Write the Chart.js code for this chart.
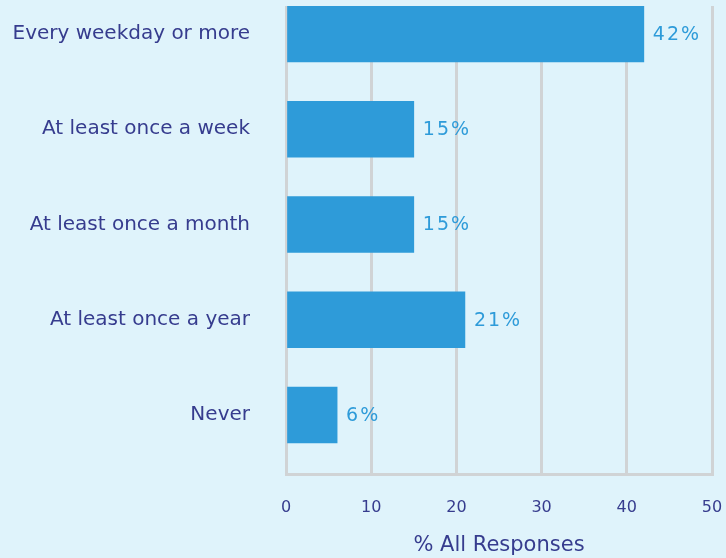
<!DOCTYPE html>
<html>
<head>
<meta charset="utf-8">
<script src="https://cdn.jsdelivr.net/npm/chart.js@4/dist/chart.umd.min.js"></script>
<style>
  html, body { margin: 0; padding: 0; background: #dff3fb; }
  #wrap { width: 726px; height: 558px; position: relative; }
</style>
</head>
<body>
<div id="wrap"><canvas id="chart"></canvas></div>
<script>
// 数据
const categories = ['Every weekday or more', 'At least once a week', 'At least once a month', 'At least once a year', 'Never'];
const responses = [42, 15, 15, 21, 6];
const xTicks = [0, 10, 20, 30, 40, 50];
const axisTitle = '% All Responses';

const barColor = '#2e9bd9';
const textColor = '#363c8e';
const gridColor = '#d0d3d5';

// 去掉刻度标签带来的额外边距
function noPadding(scale) {
    scale.paddingTop = 0;
    scale.paddingBottom = 0;
    scale.paddingLeft = 0;
    scale.paddingRight = 0;
}

// 在柱子右边写百分比
const valueLabels = {
    id: 'valueLabels',
    afterDatasetsDraw(chart) {
        const ctx = chart.ctx;
        const meta = chart.getDatasetMeta(0);
        ctx.save();
        ctx.fillStyle = barColor;
        ctx.font = '19px "DejaVu Sans"';
        ctx.letterSpacing = '2px';
        ctx.textBaseline = 'middle';
        ctx.textAlign = 'left';
        meta.data.forEach((bar, i) => {
            ctx.fillText(responses[i] + '%', bar.x + 9, bar.y + 1);
        });
        ctx.restore();
    }
};

const ctx = document.getElementById('chart').getContext('2d');
new Chart(ctx, {
    type: 'bar',
    data: {
        datasets: [{
            data: responses.map((v, i) => ({ x: v, y: i })),
            backgroundColor: barColor,
            barThickness: 56
        }]
    },
    options: {
        indexAxis: 'y',
        responsive: true,
        maintainAspectRatio: false,
        animation: false,
        layout: { padding: { top: 6, right: 14, left: 0, bottom: 0 } },
        plugins: { legend: { display: false }, tooltip: { enabled: false } },
        scales: {
            x: {
                type: 'linear',
                z: 1,   // 网格线画在柱子上面
                min: 0,
                max: 50,
                afterBuildTicks: scale => { scale.ticks = xTicks.map(v => ({ value: v })); },
                grid: { color: gridColor, lineWidth: 3, drawTicks: false },
                border: { display: true, color: gridColor, width: 3 },
                ticks: { color: textColor, font: { family: 'DejaVu Sans', size: 16 }, padding: 24 },
                title: { display: true, text: axisTitle, color: textColor, font: { family: 'DejaVu Sans', size: 21 }, padding: { top: 12, bottom: 0 } },
                afterFit: scale => { scale.height = 84; noPadding(scale); }
            },
            y: {
                type: 'linear',
                reverse: true,
                offset: false,
                min: -0.294,
                max: 4.619,
                afterBuildTicks: scale => { scale.ticks = categories.map((c, i) => ({ value: i })); },
                grid: { display: false, drawTicks: false },
                border: { display: false },
                ticks: {
                    color: textColor,
                    font: { family: 'DejaVu Sans', size: 20 },
                    padding: 36,
                    callback: v => categories[v]
                },
                afterFit: scale => { scale.width = 286; noPadding(scale); }
            }
        }
    },
    plugins: [valueLabels]
});
</script>
</body>
</html>
